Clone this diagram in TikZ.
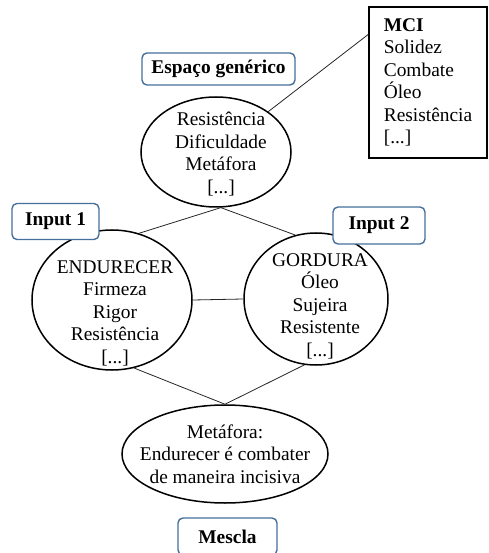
\documentclass[tikz,border=0pt]{standalone}
\usepackage{fontspec}
\setmainfont{Liberation Serif}
\usepackage{tikz}
\usetikzlibrary{calc}
\usetikzlibrary{shapes}
\definecolor{tagblue}{RGB}{70,112,155}

\begin{document}
\begin{tikzpicture}[x=1pt,y=1pt,font=\fontsize{19.4}{22.5}\selectfont,
    ell/.style={ellipse, draw, line width=1.5pt, inner sep=0pt},
    txt/.style={align=center, inner sep=0pt},
    tag/.style={draw=tagblue, line width=1.4pt, rounded corners=5pt, fill=white, inner sep=0pt,
      font=\fontsize{19.4}{22.5}\selectfont\bfseries},
    link/.style={line width=0.8pt, black!85}]

      \useasboundingbox (-216,152) rectangle (272,-401);

      % espaco generico, inputs, mescla
      \node[ell, minimum width=150pt, minimum height=110pt] (gen) {};
      \node[txt, node distance=2pt] (gentxt) [below of=gen, xshift=5pt] {Resistência\\Dificuldade\\Metáfora\\{[...]}};
      \node[ell, minimum width=160pt, minimum height=140pt, node distance=148pt] (in1) [below of=gen, xshift=-104pt] {};
      \node[txt, node distance=13pt] (in1txt) [below of=in1, xshift=3pt] {ENDURECER\\Firmeza\\Rigor\\Resistência\\{[...]}};
      \node[ell, minimum width=144pt, minimum height=132pt, node distance=147pt] (in2) [below of=gen, xshift=100pt] {};
      \node[txt, node distance=7pt] (in2txt) [below of=in2, xshift=4pt] {GORDURA\\Óleo\\Sujeira\\Resistente\\{[...]}};
      \node[ell, minimum width=206pt, minimum height=98pt, node distance=302pt] (blend) [below of=gen, xshift=9pt] {};
      \node[txt] (blendtxt) at (blend) {Metáfora:\\Endurecer é combater\\de maneira incisiva};

      \node[draw, line width=1.3pt, align=left, inner sep=0pt, minimum width=118pt, minimum height=151pt, node distance=212pt]
        (mci) [right of=gen, yshift=69.5pt] {\textbf{MCI}\\Solidez\\Combate\\Óleo\\Resistência\\{[...]}};
      \coordinate (mcipin) at ($(mci.north west)+(0,-28)$);

      \draw[link] (mcipin) -- (gen);
      \draw[link] (gen.275) -- (in1.68);
      \draw[link] (gen.275) -- (in2.108);
      \draw[link] (in1.east) -- (in2.west);
      \draw[link] (in1.-72) -- (blend.north);
      \draw[link] (in2.-100) -- (blend.north);

      % etiquetas
      \node[tag, minimum width=153pt, minimum height=32pt, node distance=83pt] (gentag) [above of=gen, xshift=2.5pt] {Espaço genérico};
      \node[tag, minimum width=87pt, minimum height=36pt, node distance=78.5pt] (in1tag) [above of=in1, xshift=-56.5pt] {Input 1};
      \node[tag, minimum width=92pt, minimum height=37pt, node distance=73.5pt] (in2tag) [above of=in2, xshift=63pt] {Input 2};
      \node[tag, minimum width=99pt, minimum height=37pt, node distance=82.5pt] (mescla) [below of=blend, xshift=2.5pt] {Mescla};
    \end{tikzpicture}
\end{document}
